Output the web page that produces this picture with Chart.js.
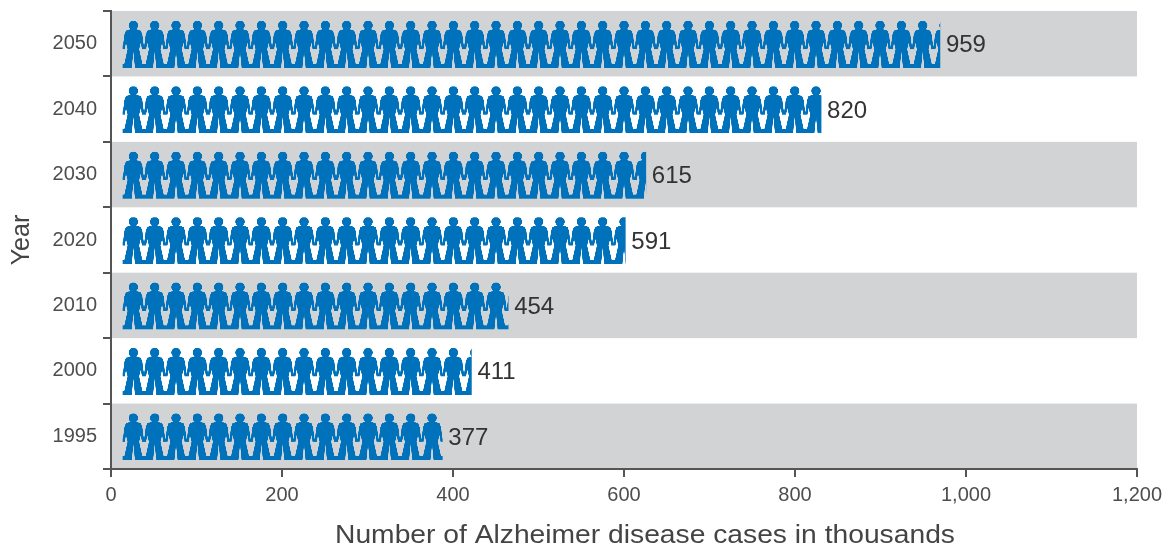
<!DOCTYPE html>
<html>
<head>
<meta charset="utf-8">
<title>Alzheimer disease cases by year</title>
<script src="https://cdn.jsdelivr.net/npm/chart.js@4"></script>
<style>
  html, body { margin: 0; padding: 0; background: #fff; }
  #wrap { width: 1168px; height: 551px; }
</style>
</head>
<body>
<div id="wrap"><canvas id="casesChart"></canvas></div>
<script>
let years = ['2050', '2040', '2030', '2020', '2010', '2000', '1995'];
let cases = [959, 820, 615, 591, 454, 411, 377];
let xTitle = 'Number of Alzheimer disease cases in thousands';

const axisColor = '#555';
const textColor = '#4d4d4d';
const fontFamily = '"Liberation Sans", Arial, sans-serif';

// one figure per tile, 21.33px wide, holding hands with its neighbours
const tileWidth = 64 / 3;
const figureHeight = 47;
const rightHalf = [
  [0, 8.5], [3, 8.5], [7.5, 10], [9, 14], [10, 22], [10.67, 26], [10.67, 28.5],
  [8.6, 28.5], [7.4, 22], [5.8, 28.5], [9, 43], [10.67, 43], [10.67, 47], [1.6, 47], [0, 31]
];

function makeFigureTile() {
  let tile = document.createElement('canvas');
  tile.width = 64;
  tile.height = figureHeight * 3;
  let c = tile.getContext('2d');
  let mid = tileWidth / 2;
  c.scale(3, 3);
  c.fillStyle = '#0072bc';
  c.beginPath();
  c.arc(mid, 4.7, 4.7, 0, Math.PI * 2);
  c.fill();
  c.beginPath();
  rightHalf.forEach(p => c.lineTo(mid + p[0], p[1]));
  rightHalf.slice().reverse().forEach(p => c.lineTo(mid - p[0], p[1]));
  c.closePath();
  c.fill();
  return tile;
}

const figureTile = makeFigureTile();

function figurePattern(context) {
  let chart = context.chart;
  let pattern = chart.ctx.createPattern(figureTile, 'repeat-x');
  let left = chart.scales.x.getPixelForValue(0);
  let top = chart.scales.y.getPixelForValue(context.dataIndex) - 24;
  pattern.setTransform(new DOMMatrix().translate(left + 2.7, top).scale(1 / 3));
  return pattern;
}

// alternating grey rows behind the bars
const rowBands = {
  id: 'rowBands',
  beforeDraw(chart) {
    let { ctx, chartArea, scales } = chart;
    let rowHeight = chartArea.height / years.length;
    ctx.save();
    ctx.fillStyle = '#d1d3d4';
    years.forEach((year, i) => {
      if (i % 2 === 0) {
        let y = scales.y.getPixelForValue(i) - rowHeight / 2;
        ctx.fillRect(chartArea.left, y, chartArea.width, rowHeight);
      }
    });
    ctx.restore();
  }
};

// the rows of figures sit a little right of the axis line
const barShift = {
  id: 'barShift',
  beforeDatasetsDraw(chart) {
    chart.ctx.save();
    chart.ctx.translate(9, 1);
  },
  afterDatasetsDraw(chart) {
    chart.ctx.restore();
  }
};

const valueLabels = {
  id: 'valueLabels',
  afterDraw(chart) {
    let { ctx, scales } = chart;
    ctx.save();
    ctx.font = '24px ' + fontFamily;
    ctx.fillStyle = '#333';
    ctx.textBaseline = 'middle';
    cases.forEach((value, i) => {
      ctx.fillText(String(value), scales.x.getPixelForValue(value) + 15, scales.y.getPixelForValue(i) + 2);
    });
    ctx.restore();
  }
};

// x axis title sits right of centre and runs a bit wide, so it is drawn here
const xAxisTitle = {
  id: 'xAxisTitle',
  afterDraw(chart) {
    let { ctx, scales } = chart;
    ctx.save();
    ctx.translate((scales.x.left + scales.x.right) / 2 + 21, scales.x.bottom - 15);
    ctx.scale(1.086, 1);
    ctx.font = '26px ' + fontFamily;
    ctx.fillStyle = '#444';
    ctx.textAlign = 'center';
    ctx.textBaseline = 'middle';
    ctx.fillText(xTitle, 0, 0);
    ctx.restore();
  }
};

let casesChart = new Chart(document.getElementById('casesChart'), {
  type: 'bar',
  data: {
    labels: years,
    datasets: [{
      label: xTitle,
      data: cases,
      base: 3.5,
      backgroundColor: figurePattern,
      barThickness: figureHeight
    }]
  },
  plugins: [rowBands, barShift, valueLabels, xAxisTitle],
  options: {
    indexAxis: 'y',
    responsive: true,
    maintainAspectRatio: false,
    animation: false,
    layout: { padding: { top: 11, right: 31 } },
    plugins: {
      legend: { display: false },
      tooltip: { enabled: false }
    },
    scales: {
      x: {
        min: 0,
        max: 1200,
        afterFit(scale) { scale.height = 82; },
        border: { color: axisColor, width: 2 },
        grid: { drawOnChartArea: false, color: axisColor, lineWidth: 2, tickLength: 8 },
        ticks: {
          stepSize: 200,
          maxRotation: 0,
          padding: 6,
          color: textColor,
          font: { family: fontFamily, size: 20 },
          callback: value => value.toLocaleString('en-US')
        }
      },
      y: {
        afterFit(scale) {
          scale.width = 111;
          scale.paddingTop = 0;
          scale.paddingBottom = 0;
        },
        border: { color: axisColor, width: 2 },
        grid: { drawOnChartArea: false, color: axisColor, lineWidth: 2, tickLength: 8 },
        ticks: {
          padding: 6,
          color: textColor,
          font: { family: fontFamily, size: 20 }
        },
        title: {
          display: true,
          text: 'Year',
          color: '#444',
          font: { family: fontFamily, size: 25 },
          padding: { top: 7, bottom: 0 }
        }
      }
    }
  }
});
</script>
</body>
</html>
